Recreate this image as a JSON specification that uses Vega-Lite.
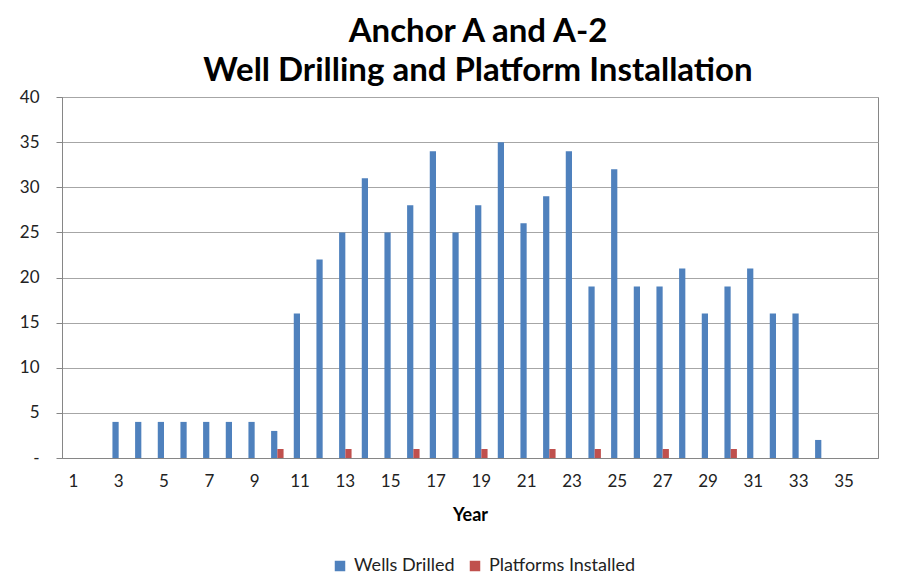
{
  "$schema": "https://vega.github.io/schema/vega-lite/v6.json",
  "autosize": {"type": "none"},
  "padding": {"left": 62, "top": 97, "right": 25, "bottom": 124},
  "width": 816,
  "height": 361,
  "background": "white",
  "title": {
    "text": ["Anchor A and A-2", "Well Drilling and Platform Installation"],
    "font": "Lato",
    "fontSize": 33,
    "fontWeight": "bold",
    "color": "#000000",
    "lineHeight": 39,
    "anchor": "middle",
    "dx": 8,
    "offset": 0
  },
  "data": {
    "values": [
      {"Year": 3, "Series": "Wells Drilled", "Count": 4},
      {"Year": 4, "Series": "Wells Drilled", "Count": 4},
      {"Year": 5, "Series": "Wells Drilled", "Count": 4},
      {"Year": 6, "Series": "Wells Drilled", "Count": 4},
      {"Year": 7, "Series": "Wells Drilled", "Count": 4},
      {"Year": 8, "Series": "Wells Drilled", "Count": 4},
      {"Year": 9, "Series": "Wells Drilled", "Count": 4},
      {"Year": 10, "Series": "Wells Drilled", "Count": 3},
      {"Year": 11, "Series": "Wells Drilled", "Count": 16},
      {"Year": 12, "Series": "Wells Drilled", "Count": 22},
      {"Year": 13, "Series": "Wells Drilled", "Count": 25},
      {"Year": 14, "Series": "Wells Drilled", "Count": 31},
      {"Year": 15, "Series": "Wells Drilled", "Count": 25},
      {"Year": 16, "Series": "Wells Drilled", "Count": 28},
      {"Year": 17, "Series": "Wells Drilled", "Count": 34},
      {"Year": 18, "Series": "Wells Drilled", "Count": 25},
      {"Year": 19, "Series": "Wells Drilled", "Count": 28},
      {"Year": 20, "Series": "Wells Drilled", "Count": 35},
      {"Year": 21, "Series": "Wells Drilled", "Count": 26},
      {"Year": 22, "Series": "Wells Drilled", "Count": 29},
      {"Year": 23, "Series": "Wells Drilled", "Count": 34},
      {"Year": 24, "Series": "Wells Drilled", "Count": 19},
      {"Year": 25, "Series": "Wells Drilled", "Count": 32},
      {"Year": 26, "Series": "Wells Drilled", "Count": 19},
      {"Year": 27, "Series": "Wells Drilled", "Count": 19},
      {"Year": 28, "Series": "Wells Drilled", "Count": 21},
      {"Year": 29, "Series": "Wells Drilled", "Count": 16},
      {"Year": 30, "Series": "Wells Drilled", "Count": 19},
      {"Year": 31, "Series": "Wells Drilled", "Count": 21},
      {"Year": 32, "Series": "Wells Drilled", "Count": 16},
      {"Year": 33, "Series": "Wells Drilled", "Count": 16},
      {"Year": 34, "Series": "Wells Drilled", "Count": 2},
      {"Year": 10, "Series": "Platforms Installed", "Count": 1},
      {"Year": 13, "Series": "Platforms Installed", "Count": 1},
      {"Year": 16, "Series": "Platforms Installed", "Count": 1},
      {"Year": 19, "Series": "Platforms Installed", "Count": 1},
      {"Year": 22, "Series": "Platforms Installed", "Count": 1},
      {"Year": 24, "Series": "Platforms Installed", "Count": 1},
      {"Year": 27, "Series": "Platforms Installed", "Count": 1},
      {"Year": 30, "Series": "Platforms Installed", "Count": 1}
    ]
  },
  "mark": {"type": "bar"},
  "encoding": {
    "x": {
      "field": "Year",
      "type": "ordinal",
      "scale": {
        "domain": [1,2,3,4,5,6,7,8,9,10,11,12,13,14,15,16,17,18,19,20,21,22,23,24,25,26,27,28,29,30,31,32,33,34,35,36],
        "paddingInner": 0.45,
        "paddingOuter": 0.225
      },
      "axis": {
        "values": [1,3,5,7,9,11,13,15,17,19,21,23,25,27,29,31,33,35],
        "labelAngle": 0,
        "ticks": false,
        "labelPadding": 15,
        "labelFont": "Lato",
        "labelFontSize": 17,
        "labelColor": "#222222",
        "domainColor": "#868686",
        "title": "Year",
        "titleFont": "Lato",
        "titleFontSize": 18,
        "titleFontWeight": "bold",
        "titleColor": "#000000",
        "titlePadding": 17,
        "grid": false
      }
    },
    "xOffset": {
      "field": "Series",
      "type": "nominal",
      "scale": {"domain": ["Wells Drilled", "Platforms Installed"], "paddingInner": 0, "paddingOuter": 0}
    },
    "y": {
      "field": "Count",
      "type": "quantitative",
      "scale": {"domain": [0, 40], "nice": false},
      "axis": {
        "values": [0,5,10,15,20,25,30,35,40],
        "labelExpr": "datum.value == 0 ? '-' : datum.label",
        "title": null,
        "tickSize": 6,
        "tickColor": "#868686",
        "domainColor": "#868686",
        "gridColor": "#A6A6A6",
        "gridWidth": 1,
        "labelPadding": 17,
        "labelFont": "Lato",
        "labelFontSize": 17,
        "labelColor": "#222222"
      }
    },
    "color": {
      "field": "Series",
      "type": "nominal",
      "scale": {"domain": ["Wells Drilled", "Platforms Installed"], "range": ["#4F81BD", "#C0504D"]},
      "legend": {
        "title": null,
        "orient": "none",
        "legendX": 269,
        "legendY": 460,
        "direction": "horizontal",
        "symbolType": "square",
        "symbolSize": 110,
        "labelFont": "Lato",
        "labelFontSize": 18,
        "labelColor": "#222222",
        "labelOffset": 5,
        "columnPadding": 11
      }
    }
  },
  "config": {
    "view": {"stroke": "#868686", "strokeWidth": 1}
  }
}
